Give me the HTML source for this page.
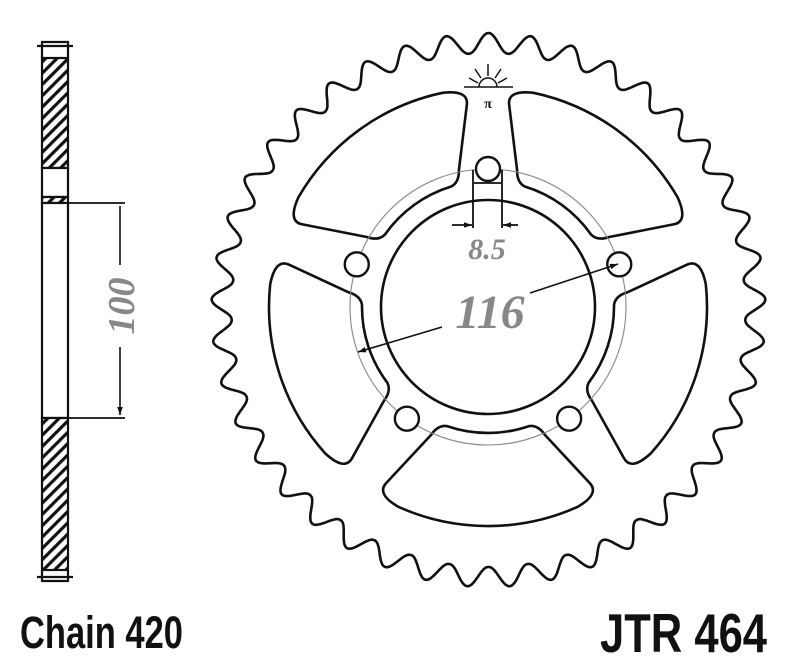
<!DOCTYPE html>
<html><head><meta charset="utf-8"><style>
html,body{margin:0;padding:0;background:#fff;width:800px;height:666px;overflow:hidden}
svg{display:block}
</style></head><body>
<svg id="s" width="800" height="666" viewBox="0 0 800 666" xmlns="http://www.w3.org/2000/svg">
<defs>
<pattern id="h" patternUnits="userSpaceOnUse" width="8" height="8" patternTransform="rotate(45)">
<rect width="8" height="8" fill="#fff"/><rect width="3.2" height="8" fill="#111"/>
</pattern>
<marker id="a" viewBox="0 0 10 10" refX="10" refY="5" markerWidth="8" markerHeight="8" orient="auto-start-reverse" markerUnits="userSpaceOnUse"><path d="M0,1.5 L10,5 L0,8.5 z" fill="#111"/></marker>
</defs>
<g stroke="#111" stroke-width="2.2" fill="none">
<rect x="42" y="58" width="26" height="110" fill="url(#h)"/>
<rect x="42" y="168" width="26" height="29" fill="#fff"/>
<rect x="42" y="197" width="26" height="6" fill="url(#h)"/>
<rect x="42" y="203" width="26" height="215" fill="#fff"/>
<rect x="42" y="418" width="26" height="152" fill="url(#h)"/>
<path d="M42,58 V42 H68 V58 M37,46 H73 M42,570 V581 H68 V570 M37,577 H73"/>
<path d="M68,203 H125 M68,418 H125" stroke-width="1.8"/>
<path d="M120,265 V206 M120,347 V415" stroke-width="1.6" marker-end="url(#a)"/>
</g>
<text transform="translate(134,306) rotate(-90)" text-anchor="middle" font-family="Liberation Serif,serif" font-style="italic" font-weight="bold" font-size="38" fill="#888">100</text>
<g id="gear" stroke="#111" stroke-width="2.6" fill="none" stroke-linejoin="round"></g>
<circle cx="488" cy="307" r="138" stroke="#888" stroke-width="1.1" fill="none"/>
<circle cx="488" cy="307" r="107" stroke="#111" stroke-width="2.6" fill="none"/>
<g id="holes" stroke="#111" stroke-width="2.4" fill="#fff"></g>
<g stroke="#111" stroke-width="1.8" fill="none">
<path d="M473,170 V228 M502,170 V228 M474,183 H501"/>
<path d="M452,225 H472" marker-end="url(#a)"/>
<path d="M518,225 H503" marker-end="url(#a)"/>
<path d="M442,327 L358,352" marker-end="url(#a)" stroke-width="1.6"/>
<path d="M530,293 L618,264" marker-end="url(#a)" stroke-width="1.6"/>
</g>
<text x="487" y="259" text-anchor="middle" font-family="Liberation Serif,serif" font-style="italic" font-weight="bold" font-size="30" fill="#888">8.5</text>
<text x="490" y="328" text-anchor="middle" font-family="Liberation Serif,serif" font-style="italic" font-weight="bold" font-size="48" fill="#888">116</text>
<g stroke="#111" stroke-width="1.5" fill="none">
<path d="M464,87 H513"/>
<path d="M479,87 A9,9 0 0 1 497,87"/>
<path d="M488,76 V64 M481,78 L475,69 M495,78 L501,69 M478,83 L469,78 M498,83 L507,78"/>
</g>
<text x="488" y="108" text-anchor="middle" font-family="Liberation Serif,serif" font-weight="bold" font-size="14" fill="#111">π</text>
<text x="20" y="648" font-family="Liberation Sans,sans-serif" font-weight="bold" font-size="45" textLength="163" lengthAdjust="spacingAndGlyphs" fill="#111">Chain 420</text>
<text x="600" y="652" font-family="Liberation Sans,sans-serif" font-weight="bold" font-size="55" textLength="167" lengthAdjust="spacingAndGlyphs" fill="#111">JTR 464</text>
</svg>
<script>
(function(){
var ns="http://www.w3.org/2000/svg";
var cx=488.5,cy=310,N=41;
function P(phi,r,ox,oy){var a=phi*Math.PI/180;return [(ox||cx)+r*Math.sin(a),(oy||cy)-r*Math.cos(a)];}
var d="";
for(var i=0;i<=N*60;i++){
  var phi=i*360/(N*60);
  var p=(phi*N/360)*2*Math.PI;
  var g=(1+Math.cos(p))/2;
  var r=257+20*Math.pow(g,1.1);
  var q=P(phi,r);
  d+=(i?"L":"M")+q[0].toFixed(1)+","+q[1].toFixed(1);
}
d+="Z";
var gear=document.getElementById("gear");
var e=document.createElementNS(ns,"path");e.setAttribute("d",d);gear.appendChild(e);
var wcx=488,wcy=307;
function f(p){return p[0].toFixed(1)+","+p[1].toFixed(1);}
for(var k=0;k<5;k++){
  var b=36+72*k;
  var W=function(t,r){return P(b+t,r,wcx,wcy);};
  var a1=W(-19,126),a2=W(19,126),c1=W(24,140),c2=W(30,203),c3=W(24,219),c4=W(-24,219),c5=W(-30,203),c6=W(-24,140);
  var s="M"+f(a1)+" A126,126 0 0 1 "+f(a2)+" Q"+f(W(23,128))+" "+f(c1)+" L"+f(c2)+" Q"+f(W(31,218))+" "+f(c3)+" A219,219 0 0 0 "+f(c4)+" Q"+f(W(-31,218))+" "+f(c5)+" L"+f(c6)+" Q"+f(W(-23,128))+" "+f(a1)+"Z";
  var w=document.createElementNS(ns,"path");w.setAttribute("d",s);gear.appendChild(w);
}
var holes=document.getElementById("holes");
for(var k=0;k<5;k++){
  var q=P(72*k,138,488,307);
  var c=document.createElementNS(ns,"circle");
  c.setAttribute("cx",q[0]);c.setAttribute("cy",q[1]);c.setAttribute("r",12);
  holes.appendChild(c);
}
})();
</script>
</body></html>
